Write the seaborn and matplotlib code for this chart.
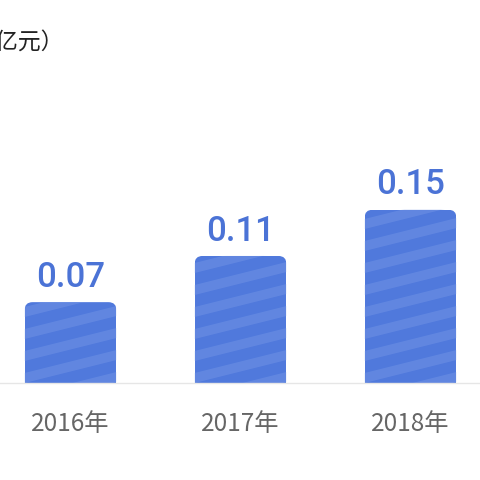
import numpy as np
import pandas as pd
import matplotlib
matplotlib.use("Agg")
import matplotlib.pyplot as plt
import seaborn as sns
from matplotlib.patches import FancyBboxPatch, Polygon

years = ["2016年", "2017年", "2018年"]
values = [0.07, 0.11, 0.15]
value_labels = ["0.07", "0.11", "0.15"]
unit_label = "（亿元）"

BAR_COLOR = "#5079dc"
STRIPE_COLOR = "#6d90e4"
LABEL_COLOR = "#4b73d6"

sns.set_theme(style="white")
plt.rcParams['font.family'] = ['Noto Sans CJK SC', 'DejaVu Sans']

W = H = 480
fig = plt.figure(figsize=(4.8, 4.8), dpi=100)
ax_left_px, ax_width_px = -14.5, 510
ax_bottom_px, ax_height_px = 97, 383
ax = fig.add_axes([ax_left_px / W, ax_bottom_px / H, ax_width_px / W, ax_height_px / H])

df = pd.DataFrame({"year": years, "value": values})
sns.barplot(data=df, x="year", y="value", color=BAR_COLOR, width=0.54,
            saturation=1, ax=ax, edgecolor="none", linewidth=0)

ax.set_xlim(-0.5, len(years) - 0.5)
px_per_y = 1155.0
ax.set_ylim(0, ax_height_px / px_per_y)

for s in ["left", "right", "top"]:
    ax.spines[s].set_visible(False)
ax.spines["bottom"].set_color("#e6e6e6")
ax.spines["bottom"].set_linewidth(1.0)
ax.set_xlabel("")
ax.set_ylabel("")
ax.set_yticks([])
ax.tick_params(axis="x", length=0, pad=20, labelsize=17.5, labelcolor="#666666")

# rounded tops + stripes
px_per_x = ax_width_px / len(years)
radius_px = 8
rx = radius_px / px_per_x
aspect = px_per_x / px_per_y
slope_px = 0.25
period_px = 22
thick_px = 10
for bar in ax.patches:
    x0 = bar.get_x()
    w = bar.get_width()
    h = bar.get_height()
    ry = radius_px / px_per_y
    clip = FancyBboxPatch((x0, -ry * 2), w, h + ry * 2,
                          boxstyle=f"round,pad=0,rounding_size={rx}",
                          mutation_aspect=aspect,
                          transform=ax.transData, facecolor="none",
                          edgecolor="none", linewidth=0)
    ax.add_patch(clip)
    bar.set_clip_path(clip)
    wpx = w * px_per_x
    hpx = h * px_per_y
    k = -2
    while k * period_px < hpx + 2 * period_px:
        yb = k * period_px
        pts_px = [(0, yb), (wpx, yb + slope_px * wpx),
                  (wpx, yb + slope_px * wpx + thick_px), (0, yb + thick_px)]
        pts = [(x0 + px / px_per_x, py / px_per_y) for px, py in pts_px]
        poly = Polygon(pts, closed=True, facecolor=STRIPE_COLOR,
                       edgecolor="none", linewidth=0, alpha=0.6)
        ax.add_patch(poly)
        poly.set_clip_path(clip)
        k += 1

ax.bar_label(ax.containers[0], labels=value_labels, padding=6,
             fontsize=25, color=LABEL_COLOR, fontweight="medium",
             family=["Roboto", "DejaVu Sans"])

fig.text(-28 / W, 1 - 42 / H, unit_label, ha="left", va="center",
         fontsize=16.5, color="#222222")

fig.savefig("out.png", dpi=100, facecolor="white")
